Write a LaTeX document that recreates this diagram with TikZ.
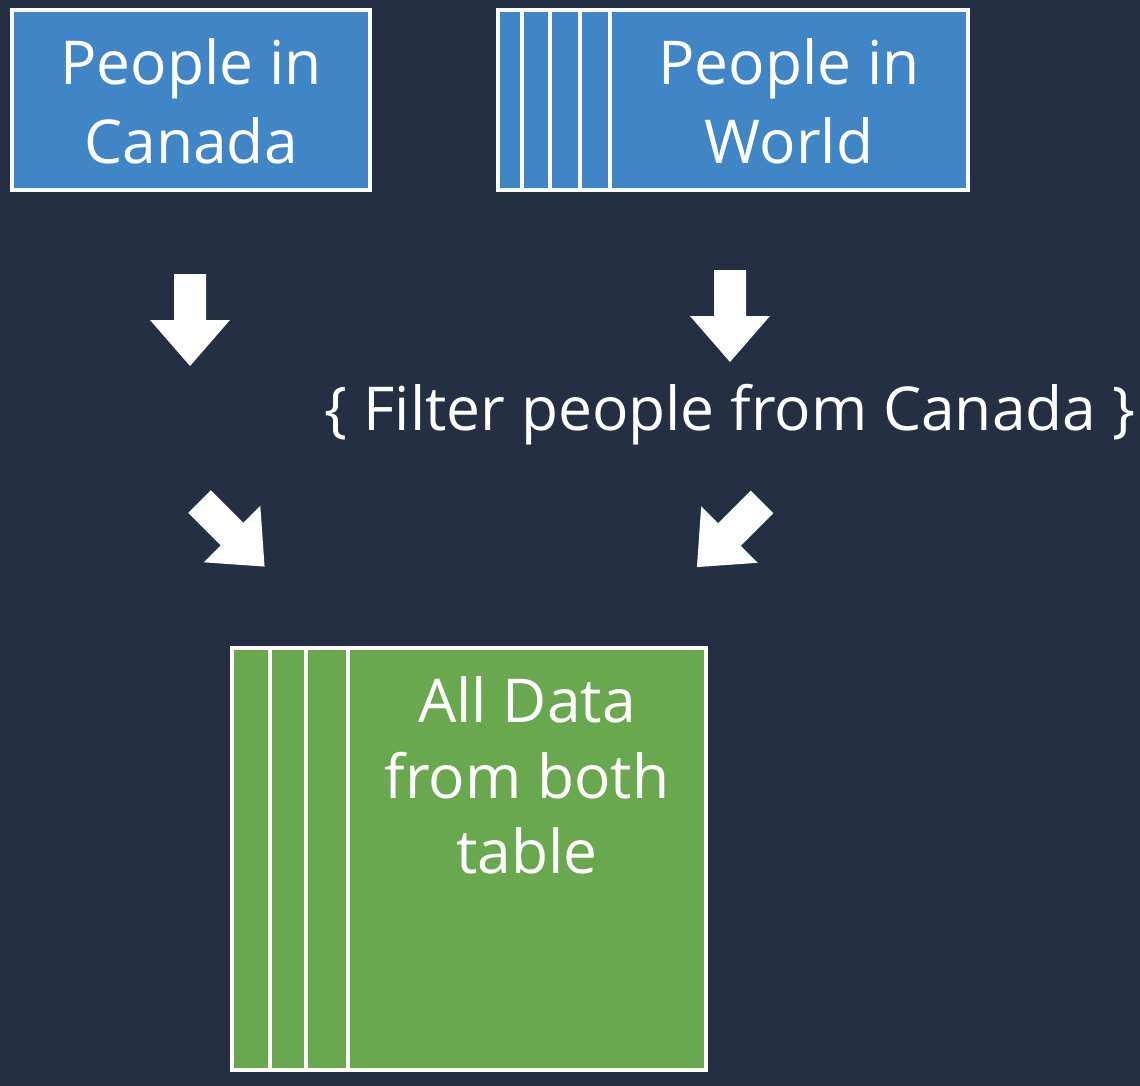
\documentclass[tikz,border=0pt]{standalone}
\usepackage{fontspec}
\setmainfont{Open Sans}
\definecolor{bgnavy}{HTML}{252F44}
\definecolor{boxblue}{HTML}{4085C6}
\definecolor{boxgreen}{HTML}{6AA84F}
\begin{document}
\begin{tikzpicture}[x=1pt,y=-1pt,
  tablebox/.style={draw=white,line width=4pt},
  divider/.style={draw=white,line width=4pt},
  label/.style={text=white,font=\fontsize{60.5}{76}\selectfont,inner sep=0pt,anchor=base},
  blockarrow/.style={fill=white,draw=none}]
  % background and page size
  \fill[bgnavy] (0,0) rectangle (1140,1086);
  \useasboundingbox (0,0) rectangle (1140,1086);

  % source table: people in Canada
  \draw[tablebox,fill=boxblue] (12,10) rectangle (370,190);
  \node[label] (canada1) at (191,85) {People in};
  \node[label] (canada2) at (191,164) {Canada};

  % source table: people in world, with column dividers
  \draw[tablebox,fill=boxblue] (498,10) rectangle (968,190);
  \foreach \cx in {522,550,580,610}
    \draw[divider] (\cx,10) -- (\cx,190);
  \node[label] (world1) at (789,85) {People in};
  \node[label] (world2) at (789,164) {World};

  % filter step
  \node[label] (filter) at (730,430) {\{ Filter people from Canada \}};

  % block arrows: shaft half-width 16, shaft 46, head half-width 40, head 46
  \def\blockarrowpath{(-16,0) -- (16,0) -- (16,46) -- (40,46) -- (0,92) -- (-40,46) -- (-16,46) -- cycle}
  \coordinate (a1) at (190,274);
  \coordinate (a2) at (730,270);
  \coordinate (a3) at (199.5,501.5);
  \coordinate (a4) at (762,502);
  \begin{scope}[shift={(a1)}]\fill[blockarrow] \blockarrowpath;\end{scope}
  \begin{scope}[shift={(a2)}]\fill[blockarrow] \blockarrowpath;\end{scope}
  \begin{scope}[shift={(a3)},rotate=45]\fill[blockarrow] \blockarrowpath;\end{scope}
  \begin{scope}[shift={(a4)},rotate=-45]\fill[blockarrow] \blockarrowpath;\end{scope}

  % result table
  \draw[tablebox,fill=boxgreen] (232,648) rectangle (706,1070);
  \foreach \cx in {270,306,348}
    \draw[divider] (\cx,648) -- (\cx,1070);
  \node[label] (result1) at (527,722) {All Data};
  \node[label] (result2) at (527,798) {from both};
  \node[label] (result3) at (527,873) {table};
\end{tikzpicture}
\end{document}
